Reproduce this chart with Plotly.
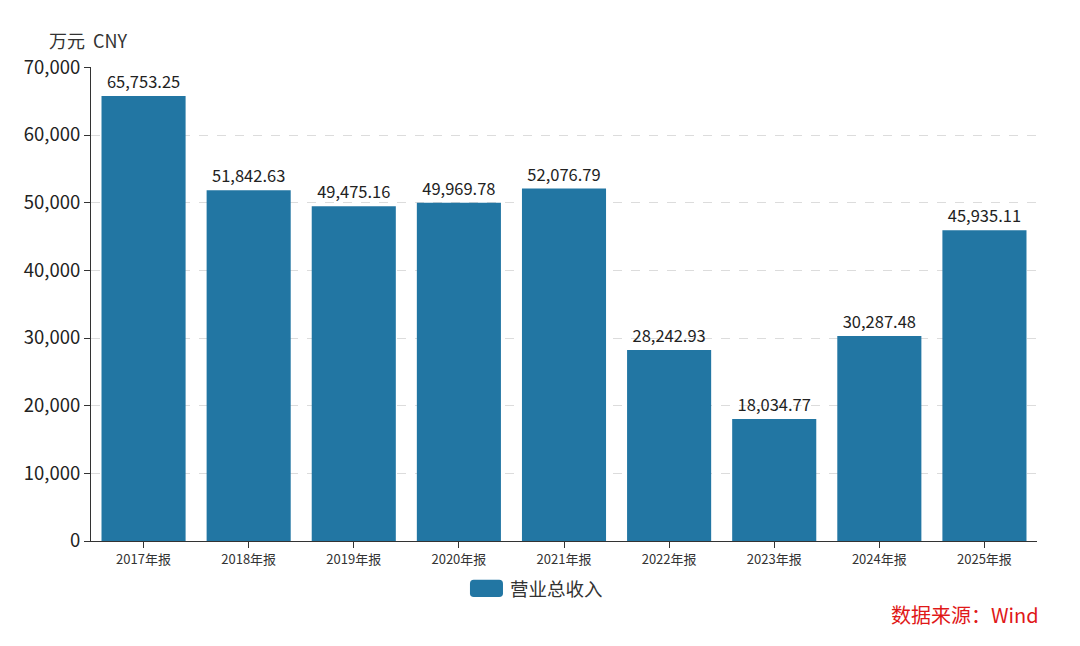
import plotly.graph_objects as go

# 营业总收入 (万元)
years = ["2017年报", "2018年报", "2019年报", "2020年报", "2021年报",
         "2022年报", "2023年报", "2024年报", "2025年报"]
revenue = [65753.25, 51842.63, 49475.16, 49969.78, 52076.79,
           28242.93, 18034.77, 30287.48, 45935.11]
y_ticks = [0, 10000, 20000, 30000, 40000, 50000, 60000, 70000]
series_name = "营业总收入"

font = "Noto Sans CJK SC"
bar_color = "#2276a3"

fig = go.Figure()
fig.add_trace(go.Bar(
    x=years, y=revenue, name=series_name, showlegend=False,
    marker=dict(color=bar_color, line=dict(width=0)),
    text=[f"{v:,.2f}" for v in revenue],
    textposition="outside", cliponaxis=False,
    textfont=dict(size=16.5, color="#222"),
))

# legend drawn by hand so the swatch can be a rounded rectangle
def rounded_rect(x0, y0, x1, y1, rx, ry):
    return (f"M{x0+rx},{y0} L{x1-rx},{y0} Q{x1},{y0} {x1},{y0+ry} "
            f"L{x1},{y1-ry} Q{x1},{y1} {x1-rx},{y1} L{x0+rx},{y1} "
            f"Q{x0},{y1} {x0},{y1-ry} L{x0},{y0+ry} Q{x0},{y0} {x0+rx},{y0} Z")

fig.add_shape(type="path", xref="paper", yref="paper",
              path=rounded_rect(0.4006, -0.118, 0.4355, -0.082, 0.004, 0.008),
              fillcolor=bar_color, line=dict(width=0))

fig.update_layout(
    width=1064, height=630,
    margin=dict(l=83, r=35, t=59, b=97),
    paper_bgcolor="white", plot_bgcolor="white",
    font=dict(family=font, color="#333"),
    bargap=0.2,
    xaxis=dict(showline=True, linecolor="#333", linewidth=1,
               ticks="outside", ticklen=6, tickcolor="#333",
               tickfont=dict(size=13, color="#333"), showgrid=False),
    yaxis=dict(range=[0, 70050], tickvals=y_ticks, tickformat=",",
               showline=True, linecolor="#333", linewidth=1,
               ticks="outside", ticklen=6, tickcolor="#333",
               tickfont=dict(size=18.5, color="#222"),
               showgrid=True, gridcolor="#dcdcdc", griddash="dash", zeroline=False),
    annotations=[
        dict(text="万元  CNY", xref="paper", yref="paper", x=-0.047, y=1.057,
             xanchor="left", yanchor="middle", showarrow=False,
             font=dict(size=18, color="#333")),
        dict(text=series_name, xref="paper", yref="paper", x=0.441, y=-0.099,
             xanchor="left", yanchor="middle", showarrow=False,
             font=dict(size=18.5, color="#333")),
        dict(text="数据来源：Wind", xref="paper", yref="paper", x=1.004, y=-0.156,
             xanchor="right", yanchor="middle", showarrow=False,
             font=dict(size=20, color="#e01818")),
    ],
)

fig.write_html("out.html")
